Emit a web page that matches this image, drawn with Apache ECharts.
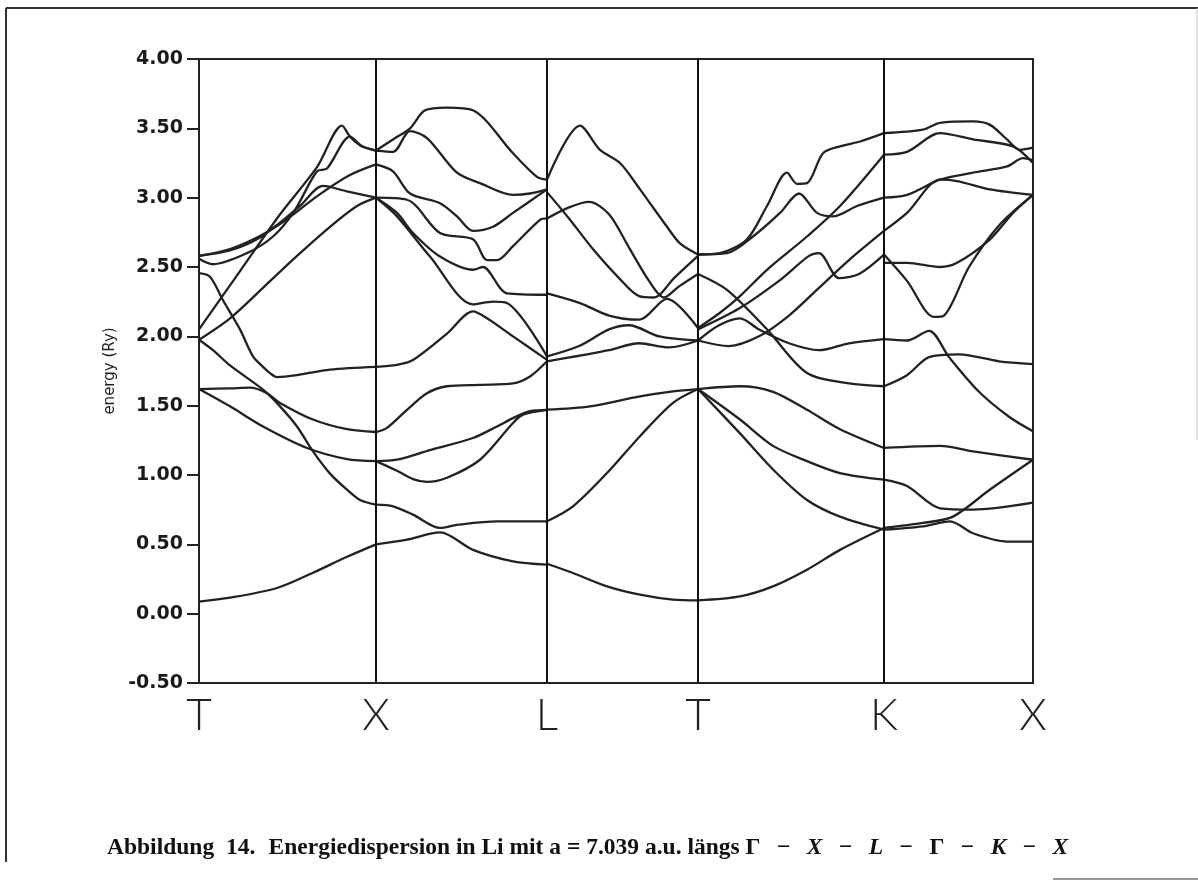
<!DOCTYPE html>
<html>
<head>
<meta charset="utf-8">
<script src="https://cdn.jsdelivr.net/npm/echarts@6/dist/echarts.min.js"></script>
<style>
html,body{margin:0;padding:0;background:#fff;}
#chart{width:1198px;height:881px;}
</style>
</head>
<body>
<div id="chart"></div>
<script>
// high-symmetry points along the k-path (path-length units)
const kTicks = [0, 1.77, 3.48, 4.99, 6.85, 8.34];
const kLabels = ['T', 'X', 'L', 'T', 'K', 'X'];
const energyMin = -0.5, energyMax = 4.0, energyStep = 0.5;

// ---- Γ → X ----
const gx1 = [[0,0.087],[0.31,0.115],[0.78,0.185],[1.14,0.295],[1.48,0.41],[1.77,0.50]];
const gx2 = [[0,1.62],[0.31,1.625],[0.51,1.63],[0.68,1.59],[0.81,1.52],[1.14,1.40],[1.48,1.33],[1.77,1.31]];
const gx3 = [[0,1.62],[0.31,1.495],[0.64,1.35],[1.08,1.195],[1.48,1.115],[1.77,1.10]];
const gx4 = [[0,1.975],[0.14,1.90],[0.31,1.79],[0.64,1.615],[0.81,1.495],[0.98,1.35],[1.14,1.17],[1.31,1.01],[1.48,0.894],[1.61,0.82],[1.77,0.786]];
const gx5 = [[0,2.456],[0.11,2.43],[0.24,2.26],[0.41,2.05],[0.54,1.855],[0.64,1.78],[0.71,1.735],[0.78,1.706],[0.98,1.72],[1.31,1.76],[1.77,1.78]];
const gx6 = [[0,1.975],[0.31,2.13],[0.64,2.35],[0.98,2.58],[1.31,2.79],[1.58,2.94],[1.77,3.0]];
const gx7 = [[0,2.05],[0.4,2.46],[0.8,2.87],[1.18,3.22],[1.43,3.52],[1.51,3.44],[1.63,3.37],[1.77,3.34]];
const gx8 = [[0,2.58],[0.31,2.62],[0.58,2.70],[0.81,2.82],[1.01,2.94],[1.24,3.085],[1.48,3.045],[1.77,3.0]];
const gx9 = [[0,2.56],[0.14,2.52],[0.48,2.60],[0.74,2.72],[0.95,2.90],[1.18,3.19],[1.28,3.21],[1.51,3.44],[1.63,3.37],[1.77,3.34]];
const gx10 = [[0,2.58],[0.31,2.63],[0.6,2.72],[0.85,2.83],[1.2,3.02],[1.5,3.16],[1.77,3.24]];

// ---- X → L ----
const xl1 = [[1.77,0.50],[2.08,0.534],[2.41,0.586],[2.74,0.46],[3.14,0.377],[3.48,0.353]];
const xl2 = [[1.77,0.786],[1.94,0.774],[2.14,0.714],[2.41,0.618],[2.58,0.64],[2.98,0.665],[3.48,0.665]];
const xl3 = [[1.77,1.10],[1.98,1.03],[2.14,0.97],[2.28,0.95],[2.48,0.98],[2.81,1.11],[3.14,1.375],[3.24,1.435],[3.48,1.47]];
const xl4 = [[1.77,1.10],[1.98,1.11],[2.31,1.18],[2.74,1.267],[2.98,1.35],[3.14,1.41],[3.31,1.46],[3.48,1.47]];
const xl5 = [[1.77,1.31],[1.88,1.34],[2.08,1.47],[2.28,1.59],[2.48,1.64],[2.81,1.65],[3.14,1.66],[3.31,1.71],[3.48,1.82]];
const xl6 = [[1.77,1.78],[1.98,1.795],[2.14,1.83],[2.48,2.02],[2.74,2.18],[2.88,2.13],[3.14,2.0],[3.48,1.83]];
const xl7 = [[1.77,3.0],[1.98,2.865],[2.31,2.575],[2.74,2.23],[2.94,2.25],[3.08,2.24],[3.48,1.855]];
const xl8 = [[1.77,3.0],[1.98,2.89],[2.14,2.745],[2.41,2.575],[2.74,2.48],[2.84,2.50],[3.08,2.31],[3.48,2.30]];
const xl9 = [[1.77,3.0],[2.08,2.985],[2.41,2.745],[2.74,2.70],[2.88,2.55],[2.98,2.55],[3.14,2.65],[3.41,2.84],[3.48,2.85]];
const xl10 = [[1.77,3.24],[1.94,3.19],[2.11,3.03],[2.41,2.96],[2.58,2.865],[2.74,2.76],[2.94,2.79],[3.14,2.89],[3.48,3.06]];
const xl11 = [[1.77,3.34],[1.94,3.33],[2.11,3.48],[2.28,3.43],[2.58,3.18],[2.81,3.105],[3.14,3.02],[3.31,3.03],[3.48,3.06]];
const xl12 = [[1.77,3.34],[1.94,3.42],[2.11,3.50],[2.26,3.63],[2.48,3.65],[2.74,3.63],[3.14,3.32],[3.38,3.15],[3.48,3.13]];

// ---- L → Γ ----
const lg1 = [[3.48,0.36],[3.74,0.293],[4.08,0.197],[4.41,0.137],[4.74,0.101],[4.99,0.096]];
const lg2 = [[3.48,0.666],[3.74,0.774],[4.08,1.014],[4.41,1.28],[4.74,1.52],[4.99,1.62]];
const lg3 = [[3.48,1.471],[3.91,1.495],[4.41,1.567],[4.74,1.603],[4.99,1.62]];
const lg4 = [[3.48,1.82],[3.8,1.86],[4.1,1.90],[4.4,1.95],[4.7,1.92],[4.99,1.97]];
const lg5 = [[3.48,1.855],[3.8,1.93],[4.1,2.05],[4.3,2.08],[4.6,2.0],[4.99,1.97]];
const lg6 = [[3.48,2.31],[3.81,2.24],[4.1,2.15],[4.4,2.12],[4.68,2.27],[4.99,2.06]];
const lg7 = [[3.48,2.85],[3.7,2.93],[3.9,2.97],[4.1,2.88],[4.3,2.64],[4.5,2.40],[4.65,2.28],[4.8,2.36],[4.99,2.45]];
const lg8 = [[3.48,3.04],[3.7,2.85],[3.95,2.62],[4.2,2.42],[4.4,2.29],[4.55,2.28],[4.75,2.42],[4.99,2.58]];
const lg9 = [[3.48,3.13],[3.81,3.52],[4.01,3.345],[4.21,3.25],[4.41,3.06],[4.68,2.79],[4.81,2.67],[4.99,2.59]];

// ---- Γ → K ----
const gk1 = [[4.99,0.096],[5.41,0.125],[5.74,0.197],[6.08,0.317],[6.41,0.46],[6.85,0.618]];
const gk2 = [[4.99,1.62],[5.41,1.30],[5.74,1.04],[6.08,0.82],[6.41,0.70],[6.85,0.606]];
const gk3 = [[4.99,1.62],[5.41,1.40],[5.74,1.21],[6.08,1.10],[6.41,1.014],[6.85,0.966]];
const gk4 = [[4.99,1.62],[5.41,1.64],[5.74,1.60],[6.08,1.47],[6.41,1.33],[6.85,1.195]];
const gk5 = [[4.99,2.45],[5.28,2.335],[5.68,2.05],[6.08,1.735],[6.5,1.66],[6.85,1.64]];
const gk6 = [[4.99,2.06],[5.21,2.17],[5.41,2.29],[5.68,2.48],[6.08,2.72],[6.41,2.94],[6.85,3.31]];
const gk7 = [[4.99,2.59],[5.28,2.60],[5.54,2.72],[5.81,2.89],[6.0,3.03],[6.18,2.89],[6.34,2.865],[6.58,2.94],[6.85,3.0]];
const gk8 = [[4.99,2.59],[5.21,2.60],[5.48,2.70],[5.68,2.94],[5.88,3.18],[5.98,3.10],[6.08,3.105],[6.24,3.32],[6.41,3.37],[6.61,3.405],[6.85,3.465]];
const gk9 = [[4.99,1.97],[5.3,1.93],[5.6,2.0],[5.9,2.15],[6.2,2.35],[6.5,2.55],[6.85,2.76]];
const gk10 = [[4.99,1.97],[5.2,2.08],[5.41,2.13],[5.6,2.05],[5.9,1.95],[6.2,1.9],[6.5,1.95],[6.85,1.98]];
const gk11 = [[4.99,2.05],[5.4,2.2],[5.8,2.4],[6.1,2.58],[6.2,2.60],[6.4,2.42],[6.6,2.45],[6.85,2.59]];

// ---- K → X ----
const kx1 = [[6.85,3.465],[7.24,3.49],[7.41,3.54],[7.74,3.55],[7.91,3.525],[8.08,3.42],[8.21,3.345],[8.34,3.36]];
const kx2 = [[6.85,3.31],[7.08,3.33],[7.41,3.465],[7.74,3.42],[8.14,3.37],[8.34,3.25]];
const kx3 = [[6.85,3.0],[7.08,3.02],[7.41,3.13],[7.74,3.18],[8.08,3.225],[8.24,3.285],[8.34,3.27]];
const kx4 = [[6.85,2.76],[7.08,2.89],[7.41,3.13],[7.58,3.12],[7.91,3.06],[8.34,3.02]];
const kx5 = [[6.85,2.59],[7.08,2.4],[7.35,2.14],[7.45,2.15],[7.7,2.5],[8.0,2.8],[8.34,3.02]];
const kx6 = [[6.85,2.53],[7.08,2.53],[7.41,2.50],[7.58,2.53],[7.91,2.70],[8.14,2.89],[8.34,3.02]];
const kx7 = [[6.85,1.98],[7.08,1.97],[7.3,2.04],[7.5,1.85],[7.8,1.6],[8.1,1.42],[8.34,1.315]];
const kx8 = [[6.85,1.64],[7.08,1.72],[7.3,1.85],[7.6,1.87],[8.0,1.82],[8.34,1.80]];
const kx9 = [[6.85,1.195],[7.41,1.21],[7.74,1.17],[8.34,1.11]];
const kx10 = [[6.85,0.966],[7.08,0.92],[7.41,0.76],[7.74,0.75],[8.34,0.80]];
const kx11 = [[6.85,0.618],[7.24,0.654],[7.54,0.70],[7.91,0.895],[8.34,1.11]];
const kx12 = [[6.85,0.606],[7.24,0.63],[7.51,0.666],[7.74,0.58],[8.08,0.52],[8.34,0.52]];

const bands = [gx1,gx2,gx3,gx4,gx5,gx6,gx7,gx8,gx9,gx10,
  xl1,xl2,xl3,xl4,xl5,xl6,xl7,xl8,xl9,xl10,xl11,xl12,
  lg1,lg2,lg3,lg4,lg5,lg6,lg7,lg8,lg9,
  gk1,gk2,gk3,gk4,gk5,gk6,gk7,gk8,gk9,gk10,gk11,
  kx1,kx2,kx3,kx4,kx5,kx6,kx7,kx8,kx9,kx10,kx11,kx12];

const yAxisName = 'energy (Ry)';
const captionHead = 'Abbildung  14.';
const captionBody = 'Energiedispersion in Li mit a = 7.039 a.u. längs';

const chart = echarts.init(document.getElementById('chart'), null, {renderer: 'canvas'});

const series = bands.map(function (b) {
  return {
    type: 'line', data: b, showSymbol: false, smooth: 0.3, silent: true,
    lineStyle: {color: '#222', width: 2.3}
  };
});
series.push({
  type: 'line', data: [], silent: true,
  markLine: {
    symbol: 'none', silent: true, animation: false,
    label: {show: false},
    lineStyle: {color: '#111', width: 2, type: 'solid'},
    data: kTicks.slice(1, -1).map(function (k) { return {xAxis: k}; })
  }
});

const gap = '  \u2009';
const mathPart = '{b|Γ' + gap + '−' + gap + '}{i|X}{b|' + gap + '−' + gap + '}{i|L}{b|' + gap + '−' + gap + 'Γ' + gap + '−' + gap + '}{i|K}{b|' + gap + '−' + gap + '}{i|X}';

chart.setOption({
  animation: false,
  backgroundColor: '#fff',
  grid: {left: 199, right: 165, top: 59, bottom: 198, show: true, borderColor: '#222', borderWidth: 2, containLabel: false},
  xAxis: {
    type: 'value', min: kTicks[0], max: kTicks[kTicks.length - 1],
    axisLine: {show: true, onZero: false, lineStyle: {color: '#222', width: 2}},
    axisTick: {show: false},
    splitLine: {show: false},
    axisLabel: {
      customValues: kTicks,
      formatter: function (v) {
        const i = kTicks.findIndex(function (t) { return Math.abs(t - v) < 1e-6; });
        return i >= 0 ? kLabels[i] : '';
      },
      margin: 11, color: '#222', fontSize: 44, fontFamily: 'Lato', fontWeight: 300
    }
  },
  yAxis: {
    type: 'value', min: energyMin, max: energyMax, interval: energyStep,
    name: yAxisName, nameLocation: 'middle', nameGap: 72, nameRotate: 90,
    nameTextStyle: {fontSize: 15, fontFamily: 'DejaVu Sans', color: '#222'},
    axisLine: {show: true, lineStyle: {color: '#222', width: 2}},
    axisTick: {show: true, inside: false, length: 12, lineStyle: {color: '#222', width: 2}},
    splitLine: {show: false},
    axisLabel: {
      formatter: function (v) { return v.toFixed(2); },
      margin: 16, color: '#1a1a1a', fontSize: 19, fontFamily: 'DejaVu Sans', fontWeight: 'bold'
    }
  },
  series: series,
  graphic: [
    {type: 'line', shape: {x1: 6, y1: 8, x2: 1198, y2: 8}, style: {stroke: '#333', lineWidth: 2}},
    {type: 'line', shape: {x1: 6, y1: 8, x2: 6, y2: 862}, style: {stroke: '#333', lineWidth: 2}},
    {type: 'line', shape: {x1: 1197, y1: 8, x2: 1197, y2: 440}, style: {stroke: '#c4c4c4', lineWidth: 1}},
    {type: 'line', shape: {x1: 1053, y1: 879, x2: 1198, y2: 879}, style: {stroke: '#777', lineWidth: 1.5}},
    {
      type: 'text', left: 107, top: 836,
      style: {
        text: '{b|' + captionHead + '}    {b|' + captionBody + ' }' + mathPart,
        rich: {
          b: {fontFamily: 'Liberation Serif', fontWeight: 'bold', fontSize: 23.5, fill: '#111'},
          i: {fontFamily: 'Liberation Serif', fontWeight: 'bold', fontStyle: 'italic', fontSize: 23.5, fill: '#111'}
        }
      }
    }
  ]
});
</script>
</body>
</html>
